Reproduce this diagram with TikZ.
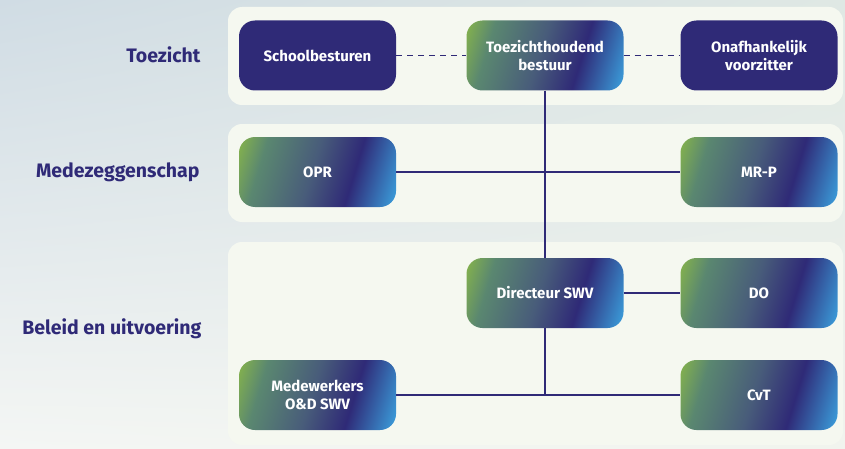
\documentclass[tikz,border=0pt]{standalone}
\usepackage{fontspec}
\setmainfont{Fira Sans}
\usepackage{tikz}
\usetikzlibrary{calc,shadings}
\definecolor{orgpurple}{HTML}{2F2A77}
\definecolor{orggreen}{HTML}{8DBB45}
\definecolor{orgteal}{HTML}{5A8770}
\definecolor{orgslate}{HTML}{485C7A}
\definecolor{orgblue}{HTML}{3BA0DD}
\definecolor{panelfill}{HTML}{F5F8F0}
\definecolor{bgtl}{HTML}{D0DCE4}
\definecolor{bgtr}{HTML}{DFE8E4}
\definecolor{bgbl}{HTML}{F4F6F4}
\definecolor{bgbr}{HTML}{F1F4EE}
\pgfdeclarehorizontalshading{orggrad}{100bp}{color(0bp)=(orggreen); color(17bp)=(orggreen); color(29bp)=(orgteal); color(48bp)=(orgslate); color(63bp)=(orgpurple); color(81bp)=(orgblue); color(100bp)=(orgblue)}

\begin{document}
\begin{tikzpicture}[x=1pt, y=1pt,
  orgbox/.style={rounded corners=16pt, minimum width=157pt, minimum height=70pt, align=center, text=white, font=\bfseries\fontsize{15}{18.5}\selectfont},
  solidbox/.style={orgbox, fill=orgpurple},
  gradbox/.style={orgbox, shade, shading=orggrad, shading angle=-17},
  layer/.style={font=\bfseries\fontsize{19.5}{23}\selectfont, text=orgpurple, anchor=east},
  link/.style={orgpurple, line width=1.4pt}]
%%%%% Background %%%%%
\useasboundingbox (0,0) rectangle (845,448);
\shade[upper left=bgtl, upper right=bgtr, lower left=bgbl, lower right=bgbr] (0,0) rectangle (845,448);
\foreach \ylow/\yhigh in {343/441, 226/324, 3/206}{
\fill[panelfill, rounded corners=14pt] (228,\ylow) rectangle (843,\yhigh);
}
%%%%% Layers %%%%%
\node[layer] (lbltoezicht) at (204,393) {Toezicht};
\node[layer] (lblmedezeggenschap) at (203,276) {Medezeggenschap};
\node[layer] (lblbeleid) at (205,119) {Beleid en uitvoering};
%%%%% Boxes %%%%%
\node[solidbox] (schoolbesturen) at (317.5,392.5) {Schoolbesturen};
\node[gradbox] (toezichthoudend) at (545,392.5) {Toezichthoudend\\bestuur};
\node[solidbox] (voorzitter) at (759,392.5) {Onafhankelijk\\voorzitter};
\node[gradbox] (opr) at (317.5,276) {OPR};
\node[gradbox] (mrp) at (759,276) {MR-P};
\node[gradbox] (directeur) at (545,155) {Directeur SWV};
\node[gradbox] (do) at (759,155) {DO};
\node[gradbox] (medewerkers) at (317.5,53) {Medewerkers\\O\&D SWV};
\node[gradbox] (cvt) at (759,53) {CvT};
%%%%% Lines %%%%%
\draw[link, line width=1.5pt, dash pattern=on 6pt off 5pt] (schoolbesturen) -- (toezichthoudend);
\draw[link, line width=1.5pt, dash pattern=on 6pt off 5pt] (toezichthoudend) -- (voorzitter);
\draw[link] (toezichthoudend) -- (directeur);
\draw[link] (opr) -- (mrp);
\draw[link] (directeur) -- (do);
\draw[link] (directeur) -- (directeur |- medewerkers);
\draw[link] (medewerkers) -- (cvt);
\end{tikzpicture}
\end{document}
